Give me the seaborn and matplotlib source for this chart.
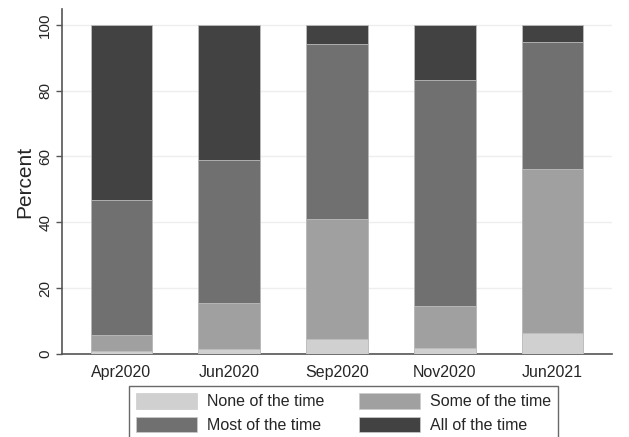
import numpy as np
import pandas as pd
import matplotlib
matplotlib.use("Agg")
import matplotlib.pyplot as plt
from matplotlib.patches import Patch
import seaborn as sns

waves = ["Apr2020", "Jun2020", "Sep2020", "Nov2020", "Jun2021"]
none_time = [1.0, 1.5, 4.5, 1.7, 6.5]
some_time = [4.8, 14.1, 36.5, 13.0, 49.8]
most_time = [40.9, 43.4, 53.2, 68.5, 38.4]
all_time = [53.3, 41.0, 5.8, 16.8, 5.3]

labels = ["None of the time", "Some of the time", "Most of the time", "All of the time"]
colors = ["#d0d0d0", "#a0a0a0", "#707070", "#424242"]

sns.set_style("white")
plt.rcParams["font.family"] = ["Liberation Sans", "DejaVu Sans"]

fig = plt.figure(figsize=(6.29, 4.37), dpi=100)
ax = fig.add_axes([62 / 629, 1 - 354 / 437, (612 - 62) / 629, (354 - 9) / 437])

# cumulative tops, drawn from the top layer down
layers = [none_time, some_time, most_time, all_time]
cum = np.cumsum(np.array(layers), axis=0)
for i in range(3, -1, -1):
    df = pd.DataFrame({"wave": waves, "pct": cum[i]})
    sns.barplot(data=df, x="wave", y="pct", color=colors[i], width=0.57,
                edgecolor="#bdbdbd", linewidth=0.6, saturation=1, ax=ax, zorder=3)

ax.set_xlim(-0.55, 4.55)
ax.set_ylim(0, 104.8)
ax.set_yticks([0, 20, 40, 60, 80, 100])
ax.grid(axis="y", color="#eeeeee", linewidth=1, zorder=0)
ax.set_axisbelow(True)
for lab in ax.get_yticklabels():
    lab.set_rotation(90)
    lab.set_va("center")
ax.tick_params(axis="y", labelsize=11, length=4, width=1, color="#555555", left=True, pad=3)
ax.tick_params(axis="x", labelsize=11.5, length=0, pad=8)
ax.set_xlabel("")
ax.set_ylabel("Percent", fontsize=15, labelpad=3)

for s in ["top", "right"]:
    ax.spines[s].set_visible(False)
for s in ["left", "bottom"]:
    ax.spines[s].set_color("#555555")
    ax.spines[s].set_linewidth(1.2)

handles = [Patch(facecolor=colors[k], edgecolor="#cccccc", linewidth=0.5) for k in [0, 2, 1, 3]]
hl = [labels[k] for k in [0, 2, 1, 3]]
leg = fig.legend(handles, hl, ncol=2, loc="upper left",
                 bbox_to_anchor=(129 / 629, 1 - 386 / 437), borderaxespad=0,
                 fontsize=11.5, frameon=True, fancybox=False, edgecolor="#444444",
                 handlelength=3.8, handleheight=1.15, handletextpad=0.63,
                 columnspacing=2.2, borderpad=0.44, labelspacing=0.45)
leg.get_frame().set_linewidth(1.0)

fig.savefig("out.png", dpi=100)
plt.close(fig)
